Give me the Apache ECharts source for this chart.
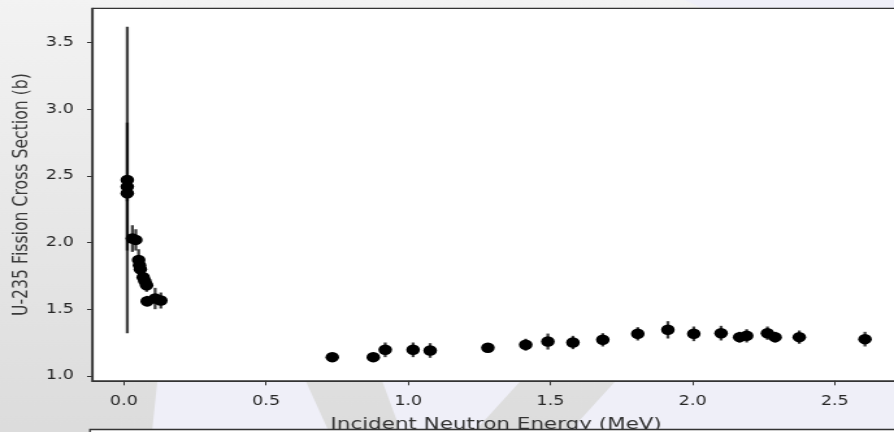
<!DOCTYPE html>
<html>
<head>
<meta charset="utf-8">
<script src="https://cdn.jsdelivr.net/npm/echarts@6/dist/echarts.min.js"></script>
<style>
  html, body { margin: 0; padding: 0; overflow: hidden; background: #e8e8e8; }
  #wrap { width: 894px; height: 432px; overflow: hidden; position: relative; }
  /* the figure is laid out narrower and widened to the page width */
  #chart { width: 688px; height: 432px; transform: scaleX(1.29942); transform-origin: 0 0; }
</style>
</head>
<body>
<div id="wrap"><div id="chart"></div></div>
<script>
// U-235 fission cross section vs incident neutron energy
const energyMeV = [
  0.012, 0.012, 0.012, 0.030, 0.042, 0.052, 0.055, 0.058, 0.068, 0.074,
  0.080, 0.082, 0.110, 0.130,
  0.733, 0.877, 0.919, 1.017, 1.077, 1.280, 1.413, 1.491, 1.579, 1.684,
  1.807, 1.913, 2.004, 2.100, 2.165, 2.190, 2.263, 2.290, 2.375, 2.606
];
const crossSection = [
  2.47, 2.42, 2.37, 2.03, 2.02, 1.87, 1.83, 1.80, 1.74, 1.71,
  1.68, 1.56, 1.58, 1.565,
  1.14, 1.14, 1.195, 1.195, 1.19, 1.21, 1.233, 1.257, 1.25, 1.27,
  1.315, 1.345, 1.315, 1.32, 1.29, 1.30, 1.32, 1.29, 1.29, 1.275
];
const uncertainty = [
  1.15, 0.48, 0.06, 0.10, 0.08, 0.08, 0.06, 0.05, 0.06, 0.05,
  0.05, 0.04, 0.08, 0.06,
  0.03, 0.03, 0.055, 0.055, 0.055, 0.035, 0.045, 0.06, 0.05, 0.05,
  0.05, 0.065, 0.055, 0.055, 0.04, 0.05, 0.05, 0.04, 0.05, 0.055
];
const xTickValues = [0.0, 0.5, 1.0, 1.5, 2.0, 2.5];
const xTickLabels = ['0.0', '0.5', '1.0', '1.5', '2.0', '2.5'];
const yTickValues = [1.0, 1.5, 2.0, 2.5, 3.0, 3.5];
const yTickLabels = ['1.0', '1.5', '2.0', '2.5', '3.0', '3.5'];

const SX = 894 / 688;               // horizontal widening of the canvas
const sx = v => v / SX;              // page x -> canvas x

const points = energyMeV.map((e, i) => [e, crossSection[i], uncertainty[i]]);

function labelFor(values, labels) {
  return v => {
    const i = values.findIndex(t => Math.abs(t - v) < 1e-9);
    return i >= 0 ? labels[i] : '';
  };
}

// soft backdrop panels behind the axes
const lavender = '#efeff8';
function band(pts) {
  return {
    type: 'polygon', z: -5, silent: true,
    shape: { points: pts.map(p => [sx(p[0]), p[1]]) },
    style: { fill: lavender }
  };
}

const chart = echarts.init(document.getElementById('chart'), null, { renderer: 'canvas' });
chart.setOption({
  animation: false,
  backgroundColor: {
    type: 'linear', x: 0, y: 0, x2: 0, y2: 1,
    colorStops: [{ offset: 0, color: '#f3f3f3' }, { offset: 1, color: '#dcdcdc' }]
  },
  graphic: [
    band([[685, 0], [900, 0], [900, 30], [748, 30]]),
    band([[158, 375], [303, 375], [329, 432], [152, 432]]),
    band([[380, 375], [526, 375], [474, 432], [401, 432]]),
    band([[621, 375], [900, 375], [900, 432], [569, 432]]),
    {
      // top edge of the panel below
      type: 'rect', z: 50, silent: true,
      shape: { x: sx(90), y: 429.5, width: 700, height: 40 },
      style: { fill: '#ffffff', stroke: '#333333', lineWidth: 1.3 }
    }
  ],
  grid: {
    left: 70.8, top: 8.3, width: 622, height: 372.5,
    outerBoundsMode: 'none', containLabel: false,
    show: true, backgroundColor: '#ffffff', borderColor: '#333333', borderWidth: 1.2
  },
  xAxis: {
    type: 'value', min: -0.112, max: 2.73,
    splitLine: { show: false },
    axisLine: { show: true, onZero: false, lineStyle: { color: '#333333', width: 1.2 } },
    axisTick: { show: true, length: 4.5, customValues: xTickValues, lineStyle: { color: '#333333', width: 1 } },
    axisLabel: {
      customValues: xTickValues, formatter: labelFor(xTickValues, xTickLabels),
      margin: 14, fontSize: 13.5, fontFamily: 'DejaVu Sans', color: '#262626'
    },
    name: 'Incident Neutron Energy (MeV)', nameLocation: 'middle', nameGap: 35,
    nameTextStyle: { fontSize: 16.5, fontFamily: 'DejaVu Sans', color: '#333333' }
  },
  yAxis: {
    type: 'value', min: 0.9625, max: 3.758,
    splitLine: { show: false },
    axisLine: { show: true, onZero: false, lineStyle: { color: '#333333', width: 1.2 } },
    axisTick: { show: true, length: 3.8, customValues: yTickValues, lineStyle: { color: '#333333', width: 1 } },
    axisLabel: {
      customValues: yTickValues, formatter: labelFor(yTickValues, yTickLabels),
      margin: 14, fontSize: 13.5, fontFamily: 'DejaVu Sans', color: '#262626'
    },
    name: 'U-235 Fission Cross Section (b)', nameLocation: 'middle', nameGap: 45, nameRotate: 90,
    nameTextStyle: { fontSize: 15.7, fontFamily: 'DejaVu Sans', color: '#3a3a3a' }
  },
  series: [
    {
      // vertical uncertainty bars
      type: 'custom', z: 2,
      data: points,
      encode: { x: 0, y: 1 },
      renderItem: (params, api) => {
        const x = api.value(0), y = api.value(1), e = api.value(2);
        const lo = api.coord([x, y - e]);
        const hi = api.coord([x, y + e]);
        return {
          type: 'line',
          shape: { x1: lo[0], y1: lo[1], x2: hi[0], y2: hi[1] },
          style: { stroke: 'rgba(0,0,0,0.75)', lineWidth: 2.3 }
        };
      }
    },
    {
      type: 'scatter', z: 3,
      data: points.map(p => [p[0], p[1]]),
      symbol: 'circle', symbolSize: 10.5,
      itemStyle: { color: '#000000', opacity: 1 }
    }
  ]
});
</script>
</body>
</html>
